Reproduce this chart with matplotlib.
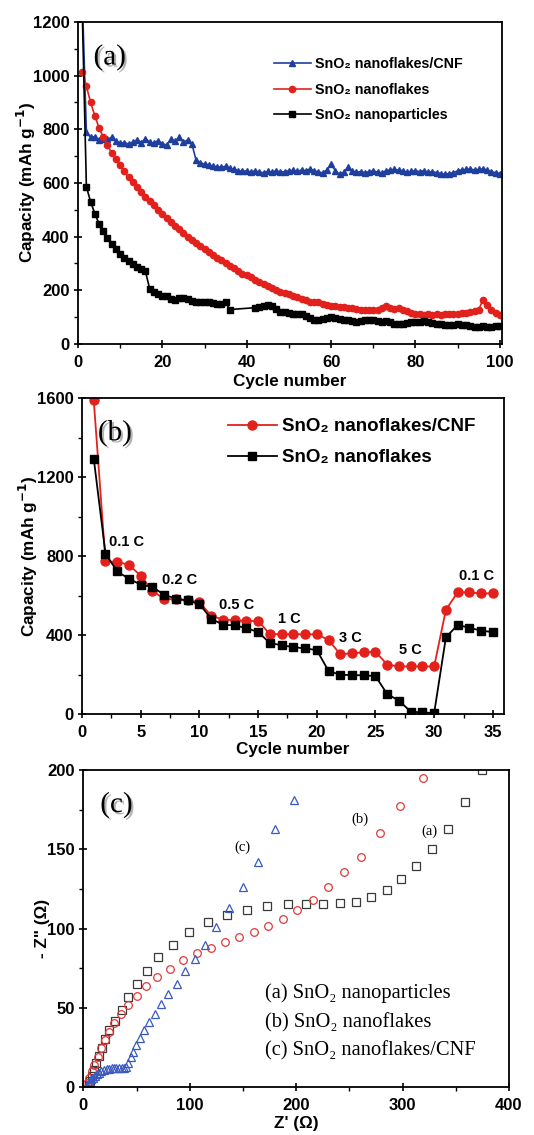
import matplotlib
matplotlib.use('Agg')
import matplotlib.pyplot as plt
import matplotlib.patheffects as pe
from matplotlib.ticker import MultipleLocator

# ---- panel (a): cycling at constant rate ----
cycles_a = list(range(1, 101))
cnf_a = [1300, 790, 770, 772, 760, 765, 762, 770, 758, 748, 750, 745, 752, 760, 750, 765, 752, 748, 758, 745,
         742, 762, 755, 770, 752, 760, 745, 685, 675, 670, 668, 662, 660, 658, 662, 655, 650, 645, 643, 645,
         640, 645, 640, 638, 643, 640, 645, 640, 642, 645, 647, 643, 648, 645, 652, 645, 640, 638, 648, 672,
         645, 632, 640, 658, 645, 640, 642, 638, 642, 645, 640, 638, 645, 648, 650, 648, 645, 640, 643, 645,
         642, 645, 640, 642, 638, 635, 632, 635, 638, 645, 648, 650, 652, 648, 650, 652, 648, 642, 638, 635]
flakes_a = [1015, 960, 900, 850, 805, 770, 740, 712, 688, 665, 643, 622, 602, 583, 565, 548, 532, 516, 500, 485,
            470, 455, 441, 428, 415, 400, 388, 376, 365, 354, 343, 333, 322, 312, 302, 292, 282, 272, 262, 255,
            250, 240, 230, 222, 214, 207, 200, 194, 190, 186, 180, 174, 168, 163, 158, 156, 155, 150, 146, 143,
            140, 138, 136, 134, 132, 130, 128, 127, 126, 126, 127, 132, 140, 133, 130, 132, 128, 122, 116, 112,
            110, 108, 110, 109, 110, 108, 110, 112, 110, 112, 114, 115, 118, 122, 128, 165, 145, 125, 115, 108]
cycles_np = list(range(1, 37)) + list(range(42, 101))
particles_a = [1250, 585, 530, 485, 448, 420, 395, 372, 352, 335, 320, 308, 296, 287, 280, 270, 205, 195, 185, 180,
               178, 168, 165, 170, 172, 168, 160, 158, 157, 155, 155, 152, 150, 150, 155, 128,
               135, 138, 140, 145, 142, 130, 120, 118, 115, 112, 113, 110, 105, 95, 90, 88, 92, 98, 100,
               98, 92, 90, 88, 85, 82, 85, 88, 90, 88, 84, 82, 85, 80, 75, 74, 76, 78, 80, 80,
               82, 85, 80, 78, 76, 74, 72, 70, 72, 74, 72, 70, 66, 64, 64, 65, 64, 64, 65, 65]

# ---- panel (b): rate capability ----
cycles_b = list(range(1, 36))
cnf_b = [1588, 773, 770, 756, 700, 624, 582, 582, 575, 567, 498, 478, 475, 471, 471, 405, 404, 404, 404, 403,
         376, 302, 308, 312, 316, 250, 241, 241, 241, 241, 528, 616, 616, 611, 611]
flakes_b = [1293, 812, 722, 685, 655, 643, 604, 584, 575, 557, 483, 452, 449, 435, 415, 360, 348, 339, 332, 324,
            218, 199, 197, 196, 192, 101, 68, 12, 8, 5, 388, 451, 437, 422, 415]
rate_labels = ['0.1 C', '0.2 C', '0.5 C', '1 C', '3 C', '5 C', '0.1 C']
rate_x = [3.8, 8.35, 13.2, 17.7, 22.9, 27.95, 33.6]
rate_y = [869, 680, 553, 483, 385, 322, 697]

# ---- panel (c): Nyquist plots ----
zre_np = [5, 6.5, 8, 10, 12, 14.5, 17.5, 20.5, 24, 29.5, 36, 42, 50, 60, 70.5, 84, 99, 117, 134.7, 154, 173,
          192, 209, 225.5, 241, 256, 270, 285, 299, 313, 328, 343, 358.6, 375]
zim_np = [1.5, 4, 7, 11, 15.5, 20, 25, 30.5, 36, 42, 49, 57, 65, 73, 82, 90, 98, 104, 108.5, 112, 114.5,
          115.5, 115.5, 115.5, 116, 117, 120, 124.5, 131, 139.5, 150, 163, 180, 200]
zre_fl = [3.8, 5.6, 7.8, 10.3, 13.5, 16.3, 20, 24, 29, 35, 42, 50, 58.6, 69.5, 81.4, 93.3, 107, 120, 133.4,
          146.6, 160, 174, 188, 200.8, 215.5, 230, 245, 261, 278.5, 298, 319]
zim_fl = [2.5, 6, 10, 14, 19.3, 24.6, 30, 35, 40.3, 46, 52, 57.8, 64, 69.5, 74.8, 80, 84.5, 87.6, 91.4,
          94.5, 97.7, 101.5, 106, 111.5, 118, 126, 135.7, 145, 160.5, 177, 195]
zre_cnf = [2.5, 3.8, 5, 6, 7.5, 9.4, 11, 12.5, 15, 17, 19.5, 22, 24.5, 26.6, 29, 31, 33.5, 36, 38, 39.8,
           42, 44.5, 47, 49.8, 53, 57, 62, 67, 73, 80, 87.7, 96, 105, 114.6, 125, 136.9, 150, 163.8, 180, 198]
zim_cnf = [0.5, 1.5, 2.5, 3.5, 5, 6, 7, 8.2, 9.3, 10.3, 11, 11.5, 11.8, 12, 12, 12, 12, 12, 12.2, 12.6,
           15.5, 19, 22.5, 26.7, 31.3, 36, 41.4, 46, 52.3, 58.6, 65, 73, 80.9, 90, 101, 113, 126, 142, 162.5, 181]

SANS = ['Liberation Sans', 'DejaVu Sans']
SERIF = ['Liberation Serif', 'DejaVu Serif']
BLUE = '#1f3f9f'
RED = '#e3211c'

plt.rcParams['font.family'] = SANS
plt.rcParams['font.weight'] = 'bold'
plt.rcParams['axes.labelweight'] = 'bold'
plt.rcParams['axes.linewidth'] = 1.3

fig = plt.figure(figsize=(5.34, 11.35), dpi=100)
ax1 = fig.add_axes([0.146, 0.697, 0.794, 0.2837])
ax2 = fig.add_axes([0.1536, 0.3709, 0.790, 0.2784])
ax3 = fig.add_axes([0.156, 0.042, 0.797, 0.2796])

shadow = [pe.withSimplePatchShadow(offset=(1.5, -1.5), shadow_rgbFace='gray', alpha=0.6)]


def style(ax):
    ax.tick_params(which='major', direction='inout', length=6, width=1.2, labelsize=12, pad=3)
    ax.tick_params(axis='x', which='major', pad=5)
    ax.tick_params(which='minor', direction='out', length=3, width=1.0)
    for lab in ax.get_xticklabels() + ax.get_yticklabels():
        lab.set_fontweight('bold')


# (a)
ax1.plot(cycles_a, cnf_a, '-^', color=BLUE, ms=5, lw=1.2, label='SnO₂ nanoflakes/CNF')
ax1.plot(cycles_a, flakes_a, '-o', color=RED, ms=4.5, lw=1.2, label='SnO₂ nanoflakes')
ax1.plot(cycles_np, particles_a, '-s', color='black', ms=4, lw=1.2, label='SnO₂ nanoparticles')
ax1.set_xlim(0, 100.5)
ax1.set_ylim(0, 1200)
ax1.xaxis.set_major_locator(MultipleLocator(20))
ax1.xaxis.set_minor_locator(MultipleLocator(10))
ax1.yaxis.set_major_locator(MultipleLocator(200))
ax1.yaxis.set_minor_locator(MultipleLocator(100))
ax1.set_xlabel('Cycle number', fontsize=12.3, labelpad=3)
ax1.set_ylabel('Capacity (mAh g$^{-1}$)', fontsize=12.3, labelpad=-4)
style(ax1)
ax1.legend(loc='upper left', bbox_to_anchor=(0.462, 0.89), frameon=False, borderpad=0, borderaxespad=0,
           handlelength=2.6, handletextpad=0.3, labelspacing=0.8, prop={'weight': 'bold', 'size': 10.3})
ax1.text(0.075, 0.89, '(a)', transform=ax1.transAxes, family=SERIF, fontweight='normal', fontsize=21,
         ha='center', va='center', path_effects=shadow)

# (b)
ax2.plot(cycles_b, cnf_b, '-o', color=RED, ms=6.5, lw=1.3, label='SnO₂ nanoflakes/CNF')
ax2.plot(cycles_b, flakes_b, '-s', color='black', ms=6, lw=1.3, label='SnO₂ nanoflakes')
ax2.set_xlim(0, 35.94)
ax2.set_ylim(0, 1600)
ax2.xaxis.set_major_locator(MultipleLocator(5))
ax2.xaxis.set_minor_locator(MultipleLocator(2.5))
ax2.yaxis.set_major_locator(MultipleLocator(400))
ax2.yaxis.set_minor_locator(MultipleLocator(200))
ax2.set_xlabel('Cycle number', fontsize=12.3, labelpad=1)
ax2.set_ylabel('Capacity (mAh g$^{-1}$)', fontsize=12.3, labelpad=-2)
style(ax2)
for lab, xx, yy in zip(rate_labels, rate_x, rate_y):
    ax2.text(xx, yy, lab, fontsize=10.5, fontweight='bold', ha='center', va='center')
ax2.legend(loc='upper left', bbox_to_anchor=(0.346, 0.937), frameon=False, borderpad=0, borderaxespad=0,
           handlelength=2.6, handletextpad=0.3, labelspacing=0.75, prop={'weight': 'bold', 'size': 13.5})
ax2.text(0.078, 0.889, '(b)', transform=ax2.transAxes, family=SERIF, fontweight='normal', fontsize=21,
         ha='center', va='center', path_effects=shadow)

# (c)
ax3.plot(zre_np, zim_np, 's', mfc='none', mec='#3a3a3a', ms=5.5, mew=0.9)
ax3.plot(zre_fl, zim_fl, 'o', mfc='none', mec='#e03a3a', ms=5.5, mew=0.9)
ax3.plot(zre_cnf, zim_cnf, '^', mfc='none', mec='#3a5ac0', ms=6, mew=0.9)
ax3.set_xlim(0, 400)
ax3.set_ylim(0, 200)
ax3.xaxis.set_major_locator(MultipleLocator(100))
ax3.xaxis.set_minor_locator(MultipleLocator(50))
ax3.yaxis.set_major_locator(MultipleLocator(50))
ax3.yaxis.set_minor_locator(MultipleLocator(25))
ax3.set_xlabel("Z' (Ω)", fontsize=12.3, labelpad=2)
ax3.set_ylabel('- Z" (Ω)', fontsize=12.3, labelpad=-2)
style(ax3)
for lab, xx, yy in [('(c)', 150, 151), ('(b)', 260, 169), ('(a)', 325, 161.5)]:
    ax3.text(xx, yy, lab, family=SERIF, fontweight='normal', fontsize=10.5, ha='center', va='center')
for i, lab in enumerate(['(a) SnO₂ nanoparticles', '(b) SnO₂ nanoflakes', '(c) SnO₂ nanoflakes/CNF']):
    ax3.text(170.7, 59.2 - i * 18.2, lab, family=SERIF, fontweight='normal', fontsize=14.8,
             ha='left', va='center')
ax3.text(0.078, 0.89, '(c)', transform=ax3.transAxes, family=SERIF, fontweight='normal', fontsize=21,
         ha='center', va='center', path_effects=shadow)

fig.savefig('out.png', dpi=100)
